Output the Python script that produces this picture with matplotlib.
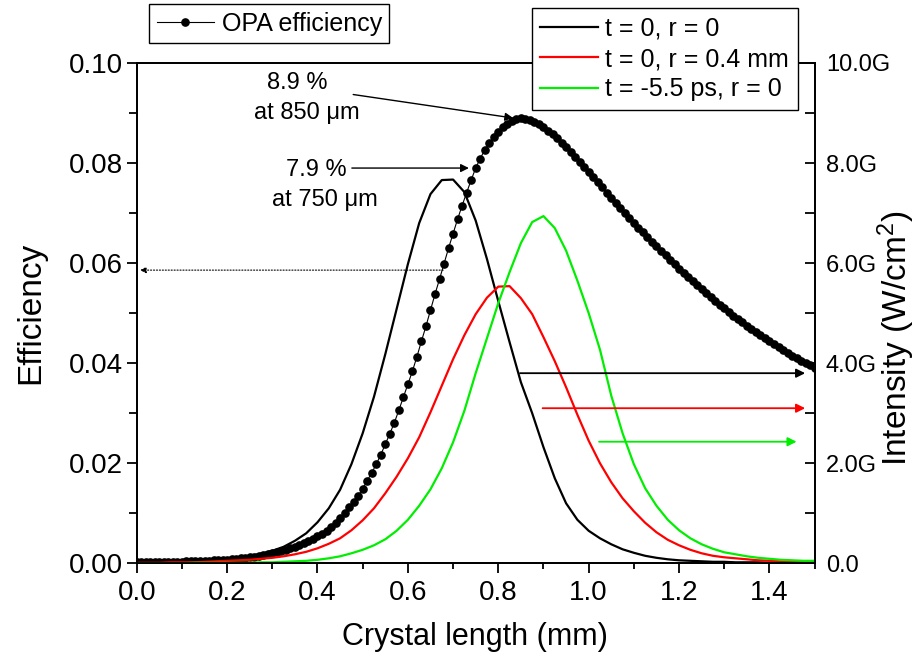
import numpy as np
import matplotlib.pyplot as plt
from matplotlib.ticker import MultipleLocator, FuncFormatter

plt.rcParams['font.family'] = ['Liberation Sans', 'DejaVu Sans']
plt.rcParams['mathtext.default'] = 'regular'

# OPA efficiency, crystal length 0 .. 1.5 mm in 0.01 mm steps
length = np.round(np.arange(151) * 0.01, 2)
efficiency = [
    0.0002, 0.0002, 0.0002, 0.0002, 0.0002, 0.0002, 0.0003, 0.0003, 0.0003, 0.0003,
    0.0003, 0.0004, 0.0004, 0.0004, 0.0005, 0.0005, 0.0005, 0.0006, 0.0006, 0.0007,
    0.0007, 0.0008, 0.0009, 0.0010, 0.0011, 0.0012, 0.0013, 0.0014, 0.0016, 0.0018,
    0.0020, 0.0022, 0.0024, 0.0027, 0.0030, 0.0033, 0.0036, 0.0040, 0.0044, 0.0049,
    0.0054, 0.0059, 0.0065, 0.0072, 0.0080, 0.0090, 0.0101, 0.0112, 0.0123, 0.0135,
    0.0149, 0.0165, 0.0181, 0.0198, 0.0217, 0.0238, 0.0259, 0.0281, 0.0306, 0.0332,
    0.0358, 0.0384, 0.0413, 0.0444, 0.0474, 0.0506, 0.0538, 0.0568, 0.0599, 0.0630,
    0.0659, 0.0688, 0.0715, 0.0741, 0.0766, 0.0790, 0.0809, 0.0826, 0.0840, 0.0852,
    0.0863, 0.0872, 0.0879, 0.0884, 0.0888, 0.0890, 0.0889, 0.0887, 0.0883, 0.0878,
    0.0872, 0.0865, 0.0858, 0.0850, 0.0841, 0.0832, 0.0823, 0.0813, 0.0802, 0.0792,
    0.0782, 0.0772, 0.0762, 0.0752, 0.0741, 0.0731, 0.0721, 0.0711, 0.0701, 0.0691,
    0.0681, 0.0671, 0.0662, 0.0652, 0.0643, 0.0634, 0.0625, 0.0616, 0.0607, 0.0598,
    0.0589, 0.0581, 0.0572, 0.0564, 0.0556, 0.0548, 0.0540, 0.0532, 0.0524, 0.0517,
    0.0510, 0.0502, 0.0495, 0.0488, 0.0482, 0.0475, 0.0468, 0.0462, 0.0456, 0.0450,
    0.0444, 0.0438, 0.0432, 0.0426, 0.0421, 0.0415, 0.0410, 0.0405, 0.0400, 0.0396,
    0.0391,
]

# signal intensity (GW/cm^2), 0 .. 1.5 mm in 0.025 mm steps
z = np.round(np.arange(61) * 0.025, 3)
i_t0_r0 = [
    0.02, 0.02, 0.03, 0.04, 0.05, 0.06, 0.07, 0.08, 0.10, 0.12,
    0.15, 0.19, 0.25, 0.33, 0.45, 0.60, 0.82, 1.10, 1.47, 1.98,
    2.60, 3.33, 4.18, 5.08, 5.98, 6.80, 7.38, 7.66, 7.67, 7.42,
    6.85, 6.08, 5.24, 4.42, 3.62, 3.00, 2.32, 1.70, 1.20, 0.87,
    0.65, 0.50, 0.38, 0.28, 0.21, 0.15, 0.11, 0.08, 0.06, 0.05,
    0.04, 0.03, 0.03, 0.02, 0.02, 0.02, 0.01, 0.01, 0.01, 0.01,
    0.01,
]
i_t0_r04 = [
    0.01, 0.01, 0.01, 0.02, 0.02, 0.02, 0.03, 0.04, 0.05, 0.06,
    0.07, 0.09, 0.11, 0.14, 0.18, 0.23, 0.30, 0.39, 0.50, 0.66,
    0.86, 1.10, 1.40, 1.73, 2.10, 2.52, 3.02, 3.55, 4.08, 4.56,
    4.98, 5.31, 5.53, 5.54, 5.30, 4.98, 4.52, 4.04, 3.52, 2.97,
    2.45, 2.00, 1.62, 1.30, 1.04, 0.81, 0.62, 0.47, 0.36, 0.27,
    0.20, 0.15, 0.12, 0.10, 0.08, 0.06, 0.05, 0.04, 0.03, 0.03,
    0.02,
]
i_tm55_r0 = [
    0.00, 0.00, 0.00, 0.00, 0.00, 0.01, 0.01, 0.01, 0.01, 0.01,
    0.01, 0.02, 0.02, 0.03, 0.04, 0.05, 0.07, 0.10, 0.14, 0.20,
    0.27, 0.36, 0.48, 0.65, 0.87, 1.15, 1.48, 1.90, 2.42, 3.05,
    3.80, 4.50, 5.20, 5.82, 6.40, 6.82, 6.94, 6.70, 6.25, 5.65,
    5.00, 4.27, 3.35, 2.60, 1.98, 1.50, 1.15, 0.87, 0.66, 0.50,
    0.38, 0.29, 0.22, 0.18, 0.14, 0.11, 0.09, 0.07, 0.06, 0.05,
    0.05,
]

fig = plt.figure(figsize=(9.2, 6.61), dpi=100)
ax = fig.add_axes([0.1486, 0.1478, 0.7369, 0.7569])
ax2 = ax.twinx()

eff_line, = ax.plot(length, efficiency, color='black', lw=0.8, marker='o',
                    ms=5.2, mec='black', mfc='black')

l1, = ax2.plot(z, np.array(i_t0_r0) * 1e9, color='black', lw=1.6)
l2, = ax2.plot(z, np.array(i_t0_r04) * 1e9, color='#ff0000', lw=1.6)
l3, = ax2.plot(z, np.array(i_tm55_r0) * 1e9, color='#00ee00', lw=1.6)

ax.set_xlim(0, 1.5)
ax.set_ylim(0, 0.10)
ax2.set_ylim(0, 10e9)

ax.xaxis.set_major_locator(MultipleLocator(0.2))
ax.xaxis.set_minor_locator(MultipleLocator(0.1))
ax.yaxis.set_major_locator(MultipleLocator(0.02))
ax.yaxis.set_minor_locator(MultipleLocator(0.01))
ax.xaxis.set_major_formatter(FuncFormatter(lambda v, p: f'{v:.1f}'))
ax.yaxis.set_major_formatter(FuncFormatter(lambda v, p: f'{v:.2f}'))
ax2.yaxis.set_major_locator(MultipleLocator(2e9))
ax2.yaxis.set_minor_locator(MultipleLocator(1e9))
ax2.yaxis.set_major_formatter(
    FuncFormatter(lambda v, p: '0.0' if v == 0 else f'{v / 1e9:.1f}G'))

for a in (ax, ax2):
    for s in a.spines.values():
        s.set_linewidth(1.3)

ax.tick_params(axis='x', which='major', direction='out', length=7, width=1.3,
               labelsize=20, pad=5, top=False)
ax.tick_params(axis='x', which='minor', direction='out', length=4.5, width=1.3, top=False)
ax.tick_params(axis='y', which='major', direction='out', length=7, width=1.3,
               labelsize=20, pad=3)
ax.tick_params(axis='y', which='minor', direction='out', length=6, width=1.3)
ax2.tick_params(axis='y', which='major', direction='in', length=7, width=1.3,
                labelsize=17, pad=8)
ax2.tick_params(axis='y', which='minor', direction='in', length=7, width=1.3)

ax.set_xlabel('Crystal length (mm)', fontsize=22, va='center')
ax.xaxis.set_label_coords(0.499, -0.147)
ax.set_ylabel('Efficiency', fontsize=24, va='center', ha='center')
ax.yaxis.set_label_coords(-0.157, 0.5)
ax2.set_ylabel('Intensity (W/cm$^2$)', fontsize=24, va='center', ha='center')
ax2.yaxis.set_label_coords(1.121, 0.45)

# peak and 750 um annotations
k_peak = int(np.argmax(efficiency))
k_750 = int(np.argmin(np.abs(length - 0.75)))
ax.text(0.356, 0.0961, '8.9 %', fontsize=17, ha='center', va='center')
ax.text(0.376, 0.0901, 'at 850 μm', fontsize=17, ha='center', va='center')
ax.annotate('', xy=(length[k_peak] - 0.017, efficiency[k_peak]), xytext=(0.479, 0.0937),
            arrowprops=dict(arrowstyle='-|>', color='black', lw=1.0, mutation_scale=12,
                            shrinkA=0, shrinkB=0))
ax.text(0.397, 0.0787, '7.9 %', fontsize=17, ha='center', va='center')
ax.text(0.417, 0.0727, 'at 750 μm', fontsize=17, ha='center', va='center')
ax.annotate('', xy=(length[k_750] - 0.015, efficiency[k_750]), xytext=(0.476, efficiency[k_750]),
            arrowprops=dict(arrowstyle='-|>', color='black', lw=1.0, mutation_scale=12,
                            shrinkA=0, shrinkB=0))

# efficiency curve -> left axis
ax.annotate('', xy=(0.007, 0.0586), xytext=(0.678, 0.0586),
            arrowprops=dict(arrowstyle='-|>', color='black', lw=0.8, ls=':',
                            mutation_scale=9, shrinkA=0, shrinkB=0))

# intensity curves -> right axis
for x0, x1, lvl, c in [(0.848, 1.479, 3.8e9, 'black'),
                       (0.898, 1.479, 3.1e9, '#ff0000'),
                       (1.023, 1.460, 2.43e9, '#00ee00')]:
    ax2.annotate('', xy=(x1, lvl), xytext=(x0, lvl),
                 arrowprops=dict(arrowstyle='-|>', color=c, lw=1.3, mutation_scale=13,
                                 shrinkA=0, shrinkB=0))

leg1 = fig.legend([eff_line], ['OPA efficiency'], loc='upper left',
                  bbox_to_anchor=(149 / 920, 1 - 4 / 661), fontsize=18,
                  frameon=True, fancybox=False, edgecolor='black', framealpha=1,
                  borderaxespad=0, borderpad=0.3, handlelength=2.3, handletextpad=0.3)
leg1.get_frame().set_linewidth(1.0)

leg2 = fig.legend([l1, l2, l3], ['t = 0, r = 0', 't = 0, r = 0.4 mm', 't = -5.5 ps, r = 0'],
                  loc='upper right', bbox_to_anchor=(798 / 920, 1 - 8 / 661), fontsize=18,
                  frameon=True, fancybox=False, edgecolor='black', framealpha=1,
                  borderaxespad=0, borderpad=0.35, labelspacing=0.25,
                  handlelength=2.3, handletextpad=0.3)
leg2.get_frame().set_linewidth(1.0)

fig.savefig('out.png', dpi=100)
